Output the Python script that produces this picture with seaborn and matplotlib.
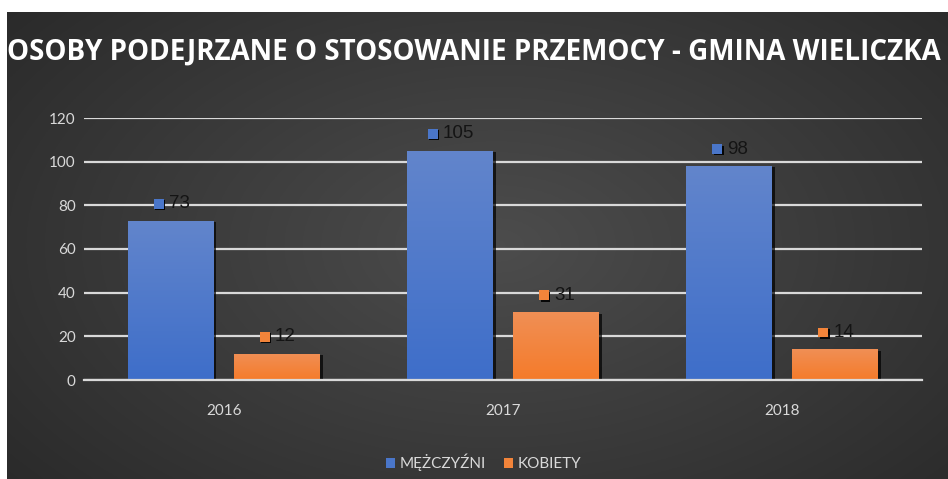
import numpy as np
import pandas as pd
import matplotlib.pyplot as plt
import matplotlib.patheffects as pe
from matplotlib.transforms import ScaledTranslation
from matplotlib.patches import Patch
import seaborn as sns

years = ["2016", "2017", "2018"]
men = [73, 105, 98]
women = [12, 31, 14]
series = ["MĘŻCZYŹNI", "KOBIETY"]
title = "OSOBY PODEJRZANE O STOSOWANIE PRZEMOCY - GMINA WIELICZKA"

df = pd.DataFrame({
    "year": years * 2,
    "group": [series[0]] * 3 + [series[1]] * 3,
    "value": men + women,
})

colors = {series[0]: "#4a76c9", series[1]: "#f2843a"}
grad = {series[0]: ("#6285cc", "#3e6ec9"), series[1]: ("#f08f55", "#f57b2a")}

sns.set_style("white")
plt.rcParams["font.family"] = ["Lato", "DejaVu Sans"]

fig = plt.figure(figsize=(9.48, 4.79), dpi=100, facecolor="white")

# radial dark-grey backdrop
bg = fig.add_axes([7 / 948, 0, 941 / 948, 467 / 479], zorder=-5)
yy, xx = np.mgrid[0:1:300j, 0:1:600j]
r = np.sqrt(((xx - 0.52) / 0.75) ** 2 + ((yy - 0.5) / 0.9) ** 2)
shade = np.clip(0.30 - 0.15 * r, 0.15, 0.30)
bg.imshow(np.dstack([shade] * 3), aspect="auto", extent=[0, 1, 0, 1])
bg.axis("off")

ax = fig.add_axes([84 / 948, 99 / 479, 838 / 948, 262 / 479])
ax.set_facecolor("none")

sns.barplot(data=df, x="year", y="value", hue="group", hue_order=series,
            palette=colors, width=0.76, gap=0.19, ax=ax, legend=False,
            edgecolor="none")

ax.set_ylim(0, 120)
ax.set_yticks(range(0, 121, 20))
ax.yaxis.grid(True, color="#d9d9d9", lw=1.6)
ax.set_axisbelow(True)
for s in ["top", "right", "left"]:
    ax.spines[s].set_visible(False)
ax.spines["bottom"].set_color("#d9d9d9")
ax.spines["bottom"].set_linewidth(1.6)
ax.tick_params(length=0, colors="#d9d9d9", labelsize=11)
ax.tick_params(axis="y", pad=6)
ax.tick_params(axis="x", pad=17)
ax.set_xlabel("")
ax.set_ylabel("")

# gradient fills, shadows and data labels
bars = ax.patches
vals = men + women
for i, bar in enumerate(bars):
    name = series[0] if i < 3 else series[1]
    x0, w, h = bar.get_x(), bar.get_width(), bar.get_height()
    bar.set_path_effects([pe.SimplePatchShadow(offset=(2, -1), shadow_rgbFace="black", alpha=0.7), pe.Normal()])
    top, bot = [np.array(plt.matplotlib.colors.to_rgb(c)) for c in grad[name]]
    t = np.linspace(0, 1, 100)[:, None]
    img = (top * (1 - t) + bot * t)[:, None, :]
    im = ax.imshow(img, extent=[x0, x0 + w, 0, h], aspect="auto", zorder=bar.get_zorder() + 0.1)
    im.set_clip_path(bar)

    xc = x0 + w / 2
    n = len(str(vals[i]))
    tw = 10 * n
    left = -(14 + tw) / 2
    tr = ax.transData + ScaledTranslation((left + 5) / 100, 17 / 100, fig.dpi_scale_trans)
    ax.scatter([xc], [h], marker="s", s=50, color=colors[name], transform=tr, zorder=5,
               clip_on=False, linewidths=0,
               path_effects=[pe.SimplePatchShadow(offset=(1, -1), shadow_rgbFace="black", alpha=0.9), pe.Normal()])
    ax.annotate(str(vals[i]), (xc, h), xytext=(left + 15, 17), textcoords="offset pixels",
                ha="left", va="center", fontsize=13.5, color="#141414",
                family=["Liberation Sans", "DejaVu Sans"], annotation_clip=False)

ax.set_xlim(-0.5, 2.5)

handles = [Patch(facecolor=colors[s], edgecolor="none") for s in series]
fig.legend(handles, series, loc="center", bbox_to_anchor=(0.51, 0.034), ncol=2,
           frameon=False, handlelength=0.6, handleheight=0.7, handletextpad=0.3,
           columnspacing=1.2, labelcolor="#d9d9d9", fontsize=11)

fig.text(0.5, 1 - 52 / 479, title, ha="center", va="center", color="white",
         fontsize=20, fontweight="bold", family=["Open Sans", "DejaVu Sans"])

fig.savefig("out.png", dpi=100, facecolor="white")
